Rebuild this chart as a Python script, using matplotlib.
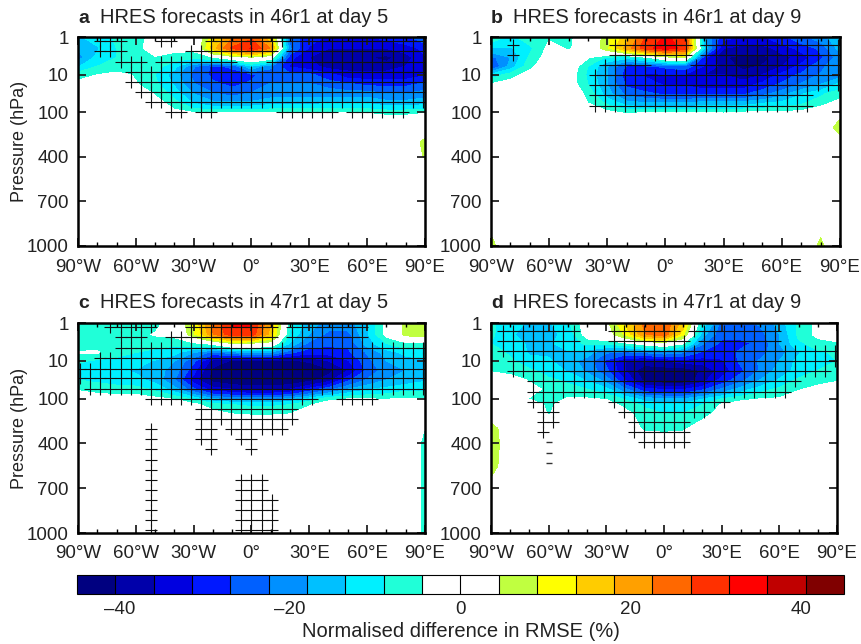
import numpy as np
import matplotlib
matplotlib.use('Agg')
import matplotlib.pyplot as plt
from matplotlib.colors import ListedColormap, BoundaryNorm

plt.rcParams['font.family'] = ['Liberation Sans', 'DejaVu Sans']

# Grid of the shaded field
lons = [-90, -80, -70, -60, -50, -40, -30, -20, -10, 0, 10, 20, 30, 40, 50, 60, 70, 80, 90]
levels = [1, 2, 3.5, 6, 10, 18, 32, 56, 100, 140, 200, 300, 400, 550, 700, 1000]

# Normalised difference in RMSE (%), one row per pressure level
field_a = [
    [-14, -12, -8, -6, -3, -5, -2, 12, 22, 26, 14, -24, -30, -32, -32, -32, -30, -28, -24],
    [-18, -14, -9, -6, -2, -3, -3, 16, 28, 32, 22, -22, -32, -36, -36, -36, -36, -34, -30],
    [-20, -12, -9, -7, -5, -7, -8, -5, 0, 3, -1, -30, -36, -40, -40, -40, -42, -38, -32],
    [-14, -9, -7, -6, -7, -12, -22, -28, -26, -14, -22, -32, -34, -38, -38, -38, -38, -36, -34],
    [-6, -4.5, -3, -5, -9, -16, -24, -28, -30, -28, -24, -26, -26, -30, -34, -34, -34, -34, -32],
    [-3, -2, -2, -4, -8, -14, -22, -26, -28, -26, -22, -22, -22, -24, -26, -28, -28, -28, -26],
    [-1, -1, -1, -1, -5, -11, -18, -22, -24, -22, -20, -20, -20, -20, -20, -20, -22, -22, -20],
    [0, 0, 0, 0, -2, -7, -14, -17, -17, -17, -15, -15, -15, -14, -14, -14, -16, -16, -15],
    [0, 0, 0, 0, 0, -3, -4.6, -5, -4.6, -4.6, -4.6, -4.6, -4.6, -4.6, -4.6, -5, -6, -6, -5],
    [0, 0, 0, 0, 0, 0, -1, -1, -1, -1, -1, -1, -1, -1, -1, -2, -3, -3, -2],
    [0, 0, 0, 0, 0, 0, 0, 0, 0, 0, 0, 0, 0, 0, 0, 0, 0, 0, 0],
    [0, 0, 0, 0, 0, 0, 0, 0, 0, 0, 0, 0, 0, 0, 0, 0, 0, 0, 6],
    [0, 0, 0, 0, 0, 0, 0, 0, 0, 0, 0, 0, 0, 0, 0, 0, 0, 0, 5],
    [0, 0, 0, 0, 0, 0, 0, 0, 0, 0, 0, 0, 0, 0, 0, 0, 0, 0, 0],
    [0, 0, 0, 0, 0, 0, 0, 0, 0, 0, 0, 0, 0, 0, 0, 0, 0, 0, 0],
    [0, 0, 0, 0, 0, 0, 0, 0, 0, 0, 0, 0, 0, 0, 0, 0, 0, 0, 0],
]

field_b = [
    [-6, -10, -7, -5, -5, -3, 8, 16, 28, 32, 30, -18, -30, -32, -32, -28, -24, -20, -14],
    [-14, -14, -10, -3, -5, -2, 8, 20, 30, 34, 30, -14, -36, -38, -38, -34, -30, -26, -16],
    [-24, -18, -8, -2, -1, -4, -10, -12, -6, 2, 4, -30, -40, -42, -42, -38, -34, -28, -20],
    [-28, -16, -6, 0, 0, -9, -18, -28, -28, -26, -24, -32, -38, -42, -40, -36, -30, -24, -18],
    [-12, -7, -2, 0, -1, -10, -18, -30, -32, -32, -32, -36, -36, -38, -36, -30, -26, -22, -20],
    [-4, -1, 0, 0, -1, -9, -18, -28, -30, -32, -32, -34, -34, -34, -30, -26, -22, -18, -12],
    [0, 0, 0, 0, 0, -6, -16, -24, -26, -28, -28, -28, -28, -28, -24, -20, -14, -10, -6],
    [0, 0, 0, 0, 0, -4.6, -10, -16, -18, -18, -18, -16, -16, -16, -14, -12, -10, -6, -3],
    [0, 0, 0, 0, 0, 0, -3, -5.5, -4.6, -4, -5, -4, -5, -4, -4, -3.5, -3, -1, 0],
    [0, 0, 0, 0, 0, 0, 0, -1, -1, -1, -1, -1, -1, -1, -1, 0, 0, 0, 4],
    [0, 0, 0, 0, 0, 0, 0, 0, 0, 0, 0, 0, 0, 0, 0, 0, 0, 0, 7],
    [0, 0, 0, 0, 0, 0, 0, 0, 0, 0, 0, 0, 0, 0, 0, 0, 0, 0, 2],
    [0, 0, 0, 0, 0, 0, 0, 0, 0, 0, 0, 0, 0, 0, 0, 0, 0, 0, 0],
    [0, 0, 0, 0, 0, 0, 0, 0, 0, 0, 0, 0, 0, 0, 0, 0, 0, 0, 0],
    [0, 0, 0, 0, 0, 0, 0, 0, 0, 0, 0, 0, 0, 0, 0, 0, 0, 0, 0],
    [6, 0, 0, 0, 0, 0, 0, 0, 0, 0, 0, 0, 0, 0, 0, 0, 0, 5.5, 0],
]

field_c = [
    [-7, -7, -7, -7, -6, -2, 10, 24, 32, 32, 18, -8, -16, -20, -20, -14, -3, 6, 8],
    [-7, -7, -7, -6, -4, -3, 8, 22, 30, 30, 16, -10, -18, -24, -24, -14, -3, 6, 7],
    [-7, -6, -7, -8, -8, -8, -6, -3, 4, 3, 1, -14, -24, -26, -26, -16, -9, -6, -6],
    [-4, -4, -8, -9, -10, -12, -18, -24, -20, -18, -18, -26, -30, -30, -28, -22, -16, -12, -12],
    [-8, -10, -10, -11, -14, -18, -26, -38, -41, -41, -41, -41, -40, -36, -32, -24, -18, -16, -14],
    [-12, -12, -13, -14, -16, -20, -30, -42, -44, -44, -44, -44, -44, -42, -36, -26, -20, -18, -16],
    [-9, -10, -11, -12, -15, -22, -34, -42, -44, -44, -44, -44, -42, -38, -28, -22, -18, -16, -14],
    [-5, -6, -7, -7, -10, -16, -26, -34, -36, -38, -38, -36, -30, -24, -18, -14, -12, -10, -10],
    [-1, -2, -2, -2, -3, -5, -10, -18, -20, -20, -20, -18, -12, -6, -4.6, -4.6, -5, -4, -4],
    [0, 0, 0, 0, 0, -1, -3, -7, -9, -10, -10, -9, -5, -2, -1, 0, 0, 0, -1],
    [0, 0, 0, 0, 0, 0, -1, -3, -4.6, -5, -5, -4.6, -2, 0, 0, 0, 0, 0, -2],
    [0, 0, 0, 0, 0, 0, 0, 0, 0, 0, 0, 0, 0, 0, 0, 0, 0, 0, -4.6],
    [0, 0, 0, 0, 0, 0, 0, 0, 0, 0, 0, 0, 0, 0, 0, 0, 0, 0, -6],
    [0, 0, 0, 0, 0, 0, 0, 0, 0, 0, 0, 0, 0, 0, 0, 0, 0, 0, -6],
    [0, 0, 0, 0, 0, 0, 0, 0, 0, 0, 0, 0, 0, 0, 0, 0, 0, 0, -6],
    [0, 0, 0, 0, 0, 0, 0, 0, 0, 0, 0, 0, 0, 0, 0, 0, 0, 0, -6],
]

field_d = [
    [-8, -12, -14, -14, -10, -1, 3, 14, 24, 26, 16, -10, -24, -24, -22, -16, -8, -3, -2],
    [-8, -13, -15, -15, -12, -2, 1, 10, 22, 26, 10, -16, -26, -26, -24, -18, -8, -3, -3],
    [-9, -12, -14, -14, -12, -8, -8, -6, -2, 1, -4, -22, -28, -28, -26, -18, -10, -7, -5],
    [-6, -10, -14, -14, -14, -16, -22, -24, -22, -20, -22, -28, -30, -26, -24, -20, -14, -10, -8],
    [-6, -8, -12, -13, -16, -20, -28, -36, -38, -36, -34, -34, -32, -26, -22, -18, -12, -10, -9],
    [-5, -6, -8, -11, -14, -19, -26, -36, -44, -44, -44, -40, -34, -28, -22, -16, -12, -9, -7],
    [0, -2, -5, -8, -10, -14, -20, -32, -42, -44, -44, -38, -30, -24, -18, -13, -8, -6, -5],
    [0, 0, -2, -6, -7, -9, -12, -22, -30, -32, -32, -28, -22, -16, -11, -8, -5, -3, -1],
    [0, 0, -5, -7, -4, -4, -5, -10, -16, -18, -18, -14, -9, -6, -4.6, -4, -1, 0, 0],
    [0, 0, 0, -6, -1, -0.5, -2, -6, -10, -12, -12, -9, -4, -2, 0, 0, 0, 0, 0],
    [0, 0, 0, -5, 0, 0, 0, -3, -7, -9, -9, -7, -2, 0, 0, 0, 0, 0, 0],
    [7, 0, 0, 0, 0, 0, 0, -1, -5.5, -6, -5.5, -1, 0, 0, 0, 0, 0, 0, 0],
    [8, 0, 0, 0, 0, 0, 0, 0, 0, 0, 0, 0, 0, 0, 0, 0, 0, 0, 0],
    [7, 0, 0, 0, 0, 0, 0, 0, 0, 0, 0, 0, 0, 0, 0, 0, 0, 0, 0],
    [2, 0, 0, 0, 0, 0, 0, 0, 0, 0, 0, 0, 0, 0, 0, 0, 0, 0, 0],
    [0, 0, 0, 0, 0, 0, 0, 0, 0, 0, 0, 0, 0, 0, 0, 0, 0, 0, 0],
]

# Significance grid: column longitudes and pressure rows (day 5 and day 9 rows differ)
sig_lons = [-88.8, -83.6, -78.4, -73.2, -67.9, -62.7, -57.5, -52.3, -47.0, -41.8, -36.6, -31.4,
            -26.1, -20.9, -15.7, -10.5, -5.2, 0.0, 5.2, 10.5, 15.7, 20.9, 26.1, 31.4, 36.6,
            41.8, 47.0, 52.3, 57.5, 62.7, 67.9, 73.2, 78.4, 83.6, 88.8]
sig_levels_day5 = [1.3, 2.4, 4.6, 8.4, 16, 29, 54, 100, 167, 236, 303, 370, 438, 508, 576,
                   645, 715, 780, 845, 915, 982]
sig_levels_day9 = [1.6, 3, 5.6, 10.3, 19, 35, 66, 120, 189, 258, 324, 393]

# Significant points as [row, first column, last column]
sig_a = [[0, 2, 4], [0, 8, 9], [0, 13, 19], [0, 20, 34],
         [1, 2, 4], [1, 11, 19], [1, 21, 34],
         [2, 4, 6], [2, 8, 15], [2, 19, 34],
         [3, 5, 34], [4, 5, 34], [5, 6, 34], [6, 7, 34],
         [7, 9, 10], [7, 12, 13], [7, 20, 25], [7, 27, 32]]
sig_b = [[0, 2, 2], [0, 12, 19], [0, 21, 34],
         [1, 2, 2], [1, 12, 19], [1, 21, 34],
         [2, 11, 15], [2, 20, 34],
         [3, 10, 34], [4, 10, 34], [5, 10, 31], [6, 10, 31]]
sig_c = [[0, 3, 7], [0, 11, 19], [0, 21, 28],
         [1, 4, 6], [1, 9, 19], [1, 21, 28],
         [2, 4, 34], [3, 2, 34], [4, 0, 34], [5, 0, 34], [6, 1, 34],
         [7, 7, 23], [7, 26, 29],
         [8, 12, 21], [9, 12, 21],
         [10, 7, 7], [10, 12, 13], [10, 15, 20],
         [11, 7, 7], [11, 12, 13], [11, 16, 17],
         [12, 7, 7], [12, 13, 13], [12, 17, 17],
         [13, 7, 7], [14, 7, 7],
         [15, 7, 7], [15, 16, 18], [16, 7, 7], [16, 16, 18],
         [17, 7, 7], [17, 16, 19], [18, 7, 7], [18, 16, 19],
         [19, 7, 7], [19, 16, 19], [20, 7, 7], [20, 16, 19]]
sig_d = [[0, 1, 8], [0, 12, 18], [0, 20, 28],
         [1, 1, 8], [1, 12, 19], [1, 21, 28],
         [2, 1, 34], [3, 2, 34], [4, 2, 33], [5, 4, 30], [6, 4, 29],
         [7, 4, 6], [7, 12, 23],
         [8, 5, 6], [8, 13, 21],
         [9, 5, 6], [9, 14, 19],
         [10, 5, 5], [10, 14, 19],
         [11, 15, 19]]

# Tiny leftover dashes under the lobe in panel d
dash_lons_d = [-60, -60, -60]
dash_levels_d = [393, 461, 530]

xtick_vals = [-90, -60, -30, 0, 30, 60, 90]
xtick_labels = ['90°W', '60°W', '30°W', '0°', '30°E', '60°E', '90°E']
ytick_vals = [1, 10, 100, 400, 700, 1000]
ytick_labels = ['1', '10', '100', '400', '700', '1000']

bar_colors = ['#000080', '#0000aa', '#0000e0', '#0018ff', '#0060ff', '#0090ff', '#00c0ff',
              '#00f0ff', '#20ffd8', '#ffffff', '#ffffff', '#c0ff40', '#ffff00', '#ffcc00',
              '#ffa000', '#ff6800', '#ff3000', '#ff0000', '#c00000', '#800000']
bar_edges = [-45, -40.5, -36, -31.5, -27, -22.5, -18, -13.5, -9, -4.5, 0,
             4.5, 9, 13.5, 18, 22.5, 27, 31.5, 36, 40.5, 45]
bar_ticks = [-40, -20, 0, 20, 40]
bar_tick_labels = ['–40', '–20', '0', '20', '40']

cmap = ListedColormap(bar_colors)
norm = BoundaryNorm(bar_edges, cmap.N)


# Pressure axis: log up to 100 hPa, linear below
def p_forward(p):
    p = np.maximum(np.asarray(p, dtype=float), 1e-3)
    return np.where(p <= 100, np.log10(p), 2 + (p - 100) / 900 * 3.55)


def p_inverse(v):
    v = np.asarray(v, dtype=float)
    return np.where(v <= 2, 10.0 ** v, 100 + (v - 2) / 3.55 * 900)


W, H = 862, 644
fig = plt.figure(figsize=(W / 100, H / 100), dpi=100)


def px_axes(left, top, right, bottom):
    return fig.add_axes([left / W, 1 - bottom / H, (right - left) / W, (bottom - top) / H])


def draw_panel(box, field, sig, sig_levels, letter, title, letter_x, title_x, title_y, ylabel):
    ax = px_axes(*box)
    ax.contourf(lons, levels, np.array(field), levels=bar_edges, cmap=cmap, norm=norm)

    # significance crosses
    xs, ys = [], []
    for row, first, last in sig:
        for col in range(first, last + 1):
            xs.append(sig_lons[col])
            ys.append(sig_levels[row])
    ax.plot(xs, ys, '+', ms=8.2, mew=0.8, color='#111111')

    ax.set_yscale('function', functions=(p_forward, p_inverse))
    ax.set_xlim(-90, 90)
    ax.set_ylim(1000, 1)
    ax.set_xticks(xtick_vals)
    ax.set_xticklabels(xtick_labels)
    ax.set_yticks(ytick_vals)
    ax.set_yticklabels(ytick_labels)
    ax.minorticks_off()
    ax.set_xticks(range(-80, 90, 10), minor=True)
    ax.tick_params(axis='both', which='major', direction='in', length=6, width=1.3,
                   labelsize=13.5, colors='#222222', top=True, right=True)
    ax.tick_params(axis='x', which='major', pad=9)
    ax.tick_params(axis='y', which='major', pad=6.5)
    ax.tick_params(axis='x', which='minor', direction='in', length=3, width=1, top=True)
    for s in ax.spines.values():
        s.set_linewidth(1.8)
    if ylabel:
        ax.set_ylabel('Pressure (hPa)', fontsize=13, color='#222222')
        ax.yaxis.set_label_coords(-0.144, 0.5)
    fig.text(letter_x / W, 1 - title_y / H, letter, fontsize=14, fontweight='bold', color='#222222')
    fig.text(title_x / W, 1 - title_y / H, title, fontsize=14.5, color='#222222')
    return ax


ax_a = draw_panel((78, 37, 425, 246), field_a, sig_a, sig_levels_day5, 'a',
                  'HRES forecasts in 46r1 at day 5', 78, 100, 23, True)
ax_b = draw_panel((491, 37, 840, 246), field_b, sig_b, sig_levels_day9, 'b',
                  'HRES forecasts in 46r1 at day 9', 491, 513, 23, False)
ax_c = draw_panel((78, 323, 425, 533), field_c, sig_c, sig_levels_day5, 'c',
                  'HRES forecasts in 47r1 at day 5', 78, 100, 308, True)
ax_d = draw_panel((491, 323, 837, 533), field_d, sig_d, sig_levels_day9, 'd',
                  'HRES forecasts in 47r1 at day 9', 491, 513, 308, False)
ax_d.plot(dash_lons_d, dash_levels_d, '_', ms=4, mew=1, color='#333333')

# Colour bar
cax = px_axes(77, 575, 844, 594)
sm = plt.cm.ScalarMappable(norm=norm, cmap=cmap)
cb = fig.colorbar(sm, cax=cax, orientation='horizontal', drawedges=True, spacing='proportional')
cb.set_ticks(bar_ticks)
cb.set_ticklabels(bar_tick_labels)
cb.ax.tick_params(length=0, labelsize=13.5, labelcolor='#222222', pad=5)
cb.ax.minorticks_off()
cb.outline.set_linewidth(0.8)
cb.dividers.set_linewidth(0.8)
cb.set_label('Normalised difference in RMSE (%)', fontsize=14.5, color='#222222', labelpad=3)

fig.savefig('out.png', dpi=100)
